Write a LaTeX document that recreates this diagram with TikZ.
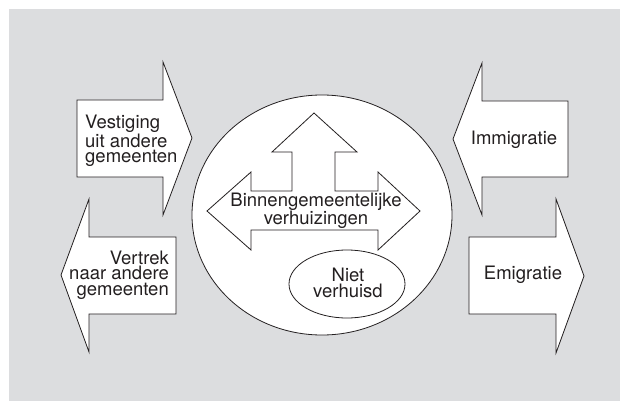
\documentclass[tikz,border=0pt]{standalone}
\usepackage{fontspec}
\setmainfont{TeX Gyre Heros}
\definecolor{bg}{HTML}{DCDDDF}
\definecolor{ink}{HTML}{231F20}
\begin{document}
\begin{tikzpicture}[x=1pt,y=-1pt,
  outl/.style={draw=ink,fill=white,line width=0.8pt,line join=miter},
  lbl/.style={font=\fontsize{18.5}{15.5}\selectfont,text=ink,inner sep=0pt,align=center}]
\useasboundingbox (0,0) rectangle (620,401);
\fill[bg] (9,9) rectangle (620,401);
% left arrows
\draw[outl] (77,100) -- (163,100) -- (163,62) -- (192,138) -- (163,215) -- (163,177) -- (77,177) -- cycle;
\node[lbl,align=left,anchor=west] (vest) at (85,141) {Vestiging\\uit andere\\gemeenten};
\draw[outl] (176,237) -- (89,237) -- (89,199) -- (61,275) -- (89,352) -- (89,314) -- (176,314) -- cycle;
\node[lbl,align=right,anchor=east] (vert) at (169,275) {Vertrek\\naar andere\\gemeenten};
% right arrows
\draw[outl] (568,101) -- (482,101) -- (482,63) -- (453,139) -- (482,215) -- (482,177) -- (568,177) -- cycle;
\node[lbl] (immi) at (514,140) {Immigratie};
\draw[outl] (469,237) -- (556,237) -- (556,199) -- (584,276) -- (556,353) -- (556,314) -- (469,314) -- cycle;
\node[lbl] (emi) at (523,275) {Emigratie};
% big circle
\draw[outl] (322,215) ellipse [x radius=130, y radius=120];
% cross arrow
\draw[outl] (314,113) -- (357,152) -- (335,152) -- (335,191) -- (378,191) -- (378,172) -- (420,211) -- (378,250) -- (378,230) -- (251,230) -- (251,250) -- (207,211) -- (251,172) -- (251,191) -- (292,191) -- (292,152) -- (272,152) -- cycle;
\node[lbl] (binnen) at (316,211) {Binnengemeentelijke\\verhuizingen};
% niet verhuisd
\draw[outl] (347,284) ellipse [x radius=58, y radius=34];
\node[lbl] (niet) at (348,283) {Niet\\verhuisd};
\end{tikzpicture}
\end{document}
